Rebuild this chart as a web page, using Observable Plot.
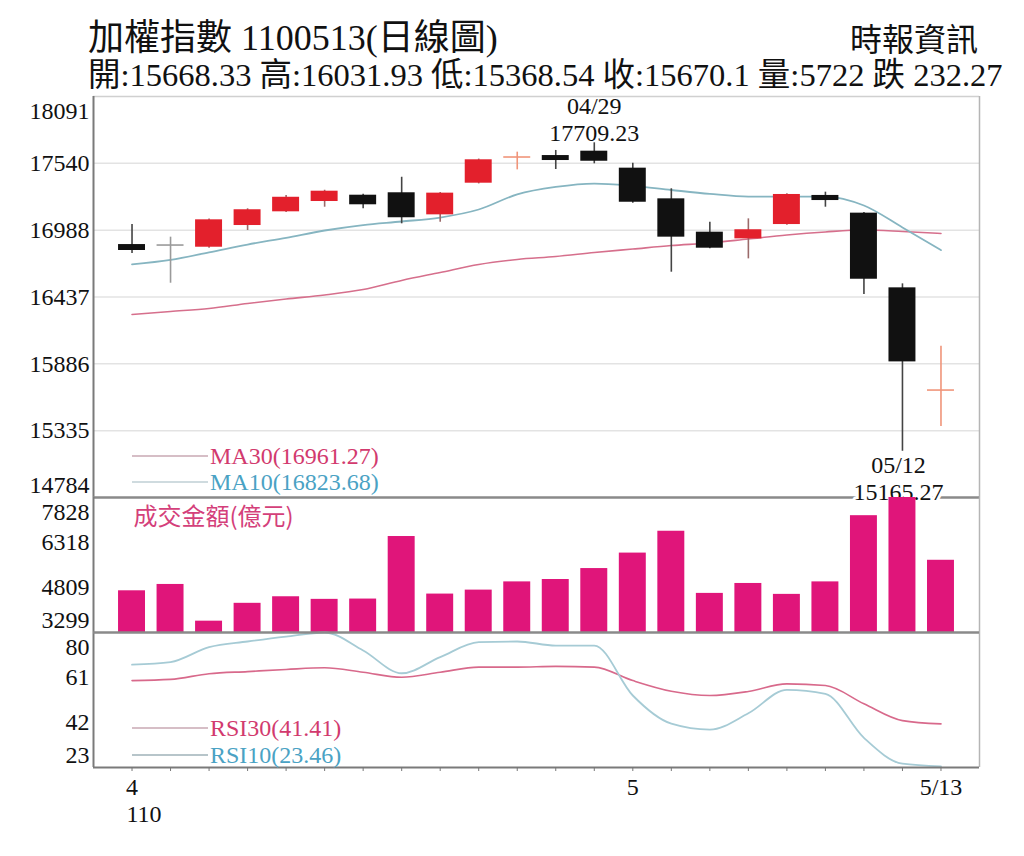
<!DOCTYPE html>
<html><head><meta charset="utf-8">
<script src="https://cdn.jsdelivr.net/npm/d3@7"></script>
<script src="https://cdn.jsdelivr.net/npm/@observablehq/plot@0.6"></script>
<style>
body{margin:0;background:#fff;}
#wrap{position:relative;width:1024px;height:856px;overflow:hidden;font-family:"Liberation Serif","Noto Sans CJK TC",serif;color:#111;}
.h{position:absolute;white-space:nowrap;line-height:1;}
.p{position:absolute;left:0;}
</style></head><body>
<div id="wrap">
  <div class="h" id="t1" style="left:88px;top:20px;font-size:36px"></div>
  <div class="h" id="t2" style="right:46px;top:24px;font-size:32px">時報資訊</div>
  <div class="h" id="t3" style="left:88px;top:59px;font-size:32.5px"></div>
  <div class="p" id="p1" style="top:95px;z-index:1"></div>
  <div class="p" id="p2" style="top:497px;z-index:2"></div>
  <div class="p" id="p3" style="top:632px;z-index:3"></div>
</div>
<script>
// ---- data ----
const title = "加權指數 1100513(日線圖)";
const dates = ["04/13","04/14","04/15","04/16","04/19","04/20","04/21","04/22","04/23","04/26","04/27","04/28","04/29",
               "05/03","05/04","05/05","05/06","05/07","05/10","05/11","05/12","05/13"];
const open  = [16870,16866,16848,17027,17140,17225,17277,17297,17115,17376,17588,17604,17640,17500,17247,16972,16917,17035,17275,17129,16513,15668.33];
const high  = [17035,16931,17080,17165,17274,17318,17285,17425,17300,17575,17632,17646,17709.23,17541,17330,17054,17082,17290,17302,17135,16546,16031.93];
const low   = [16796,16551,16840,16986,17135,17178,17165,17041,17054,17370,17486,17489,17536,17210,16642,16835,16752,17030,17178,16458,15165.27,15368.54];
const close = [16821,16866,17074,17157,17260,17310,17198,17091,17294,17569,17592,17563,17557,17219,16931,16840,16992,17283,17233,16584,15902.37,15670.1];
const volume = [4698,4911,3679,4278,4498,4411,4421,6519,4588,4721,4997,5077,5444,5963,6696,4611,4944,4578,4997,7218,7828,5722];
const ma10 = [16706,16743,16805,16870,16926,16986,17031,17060,17093,17159,17284,17345,17373,17354,17320,17288,17266,17266,17266,17192,17011,16823.68];
const ma30 = [16293,16318,16343,16384,16421,16454,16499,16574,16640,16706,16747,16771,16804,16833,16862,16883,16916,16949,16974,16990,16978,16961.27];
const rsi10 = [66.4,67.5,73.8,76.2,78.3,80.0,72.4,62.8,69.6,75.9,76.2,74.5,74.5,53.4,41.5,39.0,45.9,55.8,54.1,35.5,24.6,23.46];
const rsi30 = [59.7,60.2,62.6,63.5,64.4,65.1,63.2,61.1,63.2,65.4,65.4,65.7,65.4,59.7,55.2,53.4,55.1,58.3,57.6,49.9,42.8,41.41];
const priceTicks = [14784,15335,15886,16437,16988,17540,18091];
const volTicks = [3299,4809,6318,7828];
const rsiTicks = [23,42,61,80];
const rocYear = "110";
const volLabel = "成交金額(億元)";
const source = "時報資訊";

// ---- derived ----
const n = dates.length;
const idx = d3.range(n);
const rows = idx.map(i => ({i, date: dates[i], open: open[i], high: high[i], low: low[i], close: close[i],
  vol: volume[i], ma10: ma10[i], ma30: ma30[i], rsi10: rsi10[i], rsi30: rsi30[i]}));
const last = rows[n - 1], prev = rows[n - 2];
const chg = prev.close - last.close;
document.getElementById("t1").textContent = title;
document.getElementById("t2").textContent = source;
document.getElementById("t3").textContent =
  `開:${last.open} 高:${last.high} 低:${last.low} 收:${last.close} 量:${last.vol} ${chg >= 0 ? "跌" : "漲"} ${Math.abs(chg).toFixed(2)}`;

const W = 1024, ML = 93, MR = 45;
const FONT = "Liberation Serif, Noto Sans CJK TC, serif";
const xScale = {type: "linear", domain: [-1, n], axis: null, label: null};
const style = {fontFamily: FONT, fontSize: "24px", overflow: "visible", background: "transparent"};
const UP = "#e3202c", DOWN = "#111111";
const isDoji = d => Math.abs(d.close - d.open) < 5;
const body = rows.filter(d => !isDoji(d));
const doji = rows.filter(isDoji);
const maxRow = rows.reduce((a, b) => b.high > a.high ? b : a);
const minRow = rows.reduce((a, b) => b.low < a.low ? b : a);
const HW = 0.35;

function yLabels(ticks) {
  const lo = ticks[0], hi = ticks[ticks.length - 1];
  const common = {frameAnchor: "left", textAnchor: "end", dx: -4, fontSize: 24, fill: "#111", text: d => String(d)};
  return [
    Plot.text(ticks.filter(t => t !== lo && t !== hi), {...common, y: d => d}),
    Plot.text([hi], {...common, y: d => d, dy: 15}),
    Plot.text([lo], {...common, y: d => d, dy: -12})
  ];
}
function frame() {
  return [
    Plot.ruleX([-1], {stroke: "#7a7a7a", strokeWidth: 2}),
    Plot.ruleX([n], {stroke: "#b5b5b5", strokeWidth: 1.5})
  ];
}

// ---- price panel ----
const p1 = Plot.plot({
  width: W, height: 402, marginTop: 1, marginBottom: 0, marginLeft: ML, marginRight: MR,
  x: xScale, y: {domain: [priceTicks[0], priceTicks[priceTicks.length - 1]], axis: null},
  style,
  marks: [
    Plot.ruleY(priceTicks.slice(1, -1), {stroke: "#e3e3e3", strokeWidth: 1.5}),
    Plot.ruleY([priceTicks[priceTicks.length - 1]], {stroke: "#d0d0d0", strokeWidth: 1.5}),
    ...frame(),
    Plot.line(rows, {x: "i", y: "ma30", stroke: "#d66f8c", strokeWidth: 1.6, curve: "monotone-x"}),
    Plot.line(rows, {x: "i", y: "ma10", stroke: "#86b5c1", strokeWidth: 1.8, curve: "monotone-x"}),
    Plot.ruleX(rows, {x: "i", y1: "low", y2: "high", strokeWidth: 1.6,
      stroke: d => isDoji(d) ? (d.close > d.open ? "#f0957a" : "#9a9a9a") : (d.close > d.open ? "#9b6a6a" : "#444")}),
    Plot.rect(body, {x1: d => d.i - HW, x2: d => d.i + HW, y1: "open", y2: "close",
      fill: d => d.close > d.open ? UP : DOWN}),
    Plot.ruleY(doji, {y: "close", x1: d => d.i - HW, x2: d => d.i + HW, strokeWidth: 1.6,
      stroke: d => d.close > d.open ? "#f0957a" : "#9a9a9a"}),
    Plot.ruleY([priceTicks[0]], {stroke: "#8a8a8a", strokeWidth: 2.5}),
    Plot.text([maxRow], {x: "i", y: "high", text: d => `${d.date}\n${d.high}`, lineAnchor: "bottom",
      dy: -2, fontSize: 24, lineHeight: 1.12, fill: "#111"}),
    Plot.text([minRow], {x: "i", y: "low", text: d => `${d.date}\n${d.low}`, lineAnchor: "top",
      dy: 2, dx: -4, fontSize: 24, lineHeight: 1.15, fill: "#111", stroke: "white", strokeWidth: 6, paintOrder: "stroke"}),
    ...yLabels(priceTicks)
  ]
});
document.getElementById("p1").append(p1);

// ---- volume panel ----
const p2 = Plot.plot({
  width: W, height: 135, marginTop: 0, marginBottom: 0, marginLeft: ML, marginRight: MR,
  x: xScale, y: {domain: [volTicks[0], volTicks[volTicks.length - 1]], axis: null},
  style,
  marks: [
    ...frame(),
    Plot.rect(rows, {x1: d => d.i - HW, x2: d => d.i + HW, y1: volTicks[0], y2: "vol", fill: "#e0157a"}),
    Plot.text([volLabel], {frameAnchor: "top-left", textAnchor: "start", lineAnchor: "top", dx: 40, dy: 10,
      fontSize: 24, fill: "#d4407a", fontFamily: "Noto Sans CJK TC, sans-serif"}),
    ...yLabels(volTicks)
  ]
});
document.getElementById("p2").append(p2);

// ---- RSI panel ----
function xLabel(i) {
  if (i === n - 1) return `${+dates[i].slice(0, 2)}/${+dates[i].slice(3)}`;
  if (i === 0 || dates[i].slice(0, 2) !== dates[i - 1].slice(0, 2)) return String(+dates[i].slice(0, 2));
  return "";
}
const p3 = Plot.plot({
  width: W, height: 224, marginTop: 0, marginBottom: 89, marginLeft: ML, marginRight: MR,
  x: xScale, y: {domain: [rsiTicks[0], rsiTicks[rsiTicks.length - 1]], axis: null},
  style,
  marks: [
    ...frame(),
    Plot.line(rows, {x: "i", y: "rsi30", stroke: "#d8698b", strokeWidth: 1.6, curve: "monotone-x"}),
    Plot.line(rows, {x: "i", y: "rsi10", stroke: "#a6cbd5", strokeWidth: 1.8, curve: "monotone-x"}),
    Plot.ruleY([rsiTicks[rsiTicks.length - 1]], {stroke: "#8a8a8a", strokeWidth: 2.5}),
    Plot.ruleY([rsiTicks[0]], {stroke: "#7a7a7a", strokeWidth: 2}),
    Plot.axisX(idx, {tickSize: 4, tickPadding: 6, tickFormat: xLabel, fontSize: 24, stroke: "#777", fill: "#111", label: null}),
    Plot.text([rocYear], {frameAnchor: "bottom-left", textAnchor: "start", dx: 33, dy: 54, fontSize: 24, fill: "#111"}),
    ...yLabels(rsiTicks)
  ]
});
document.getElementById("p3").append(p3);

// ---- legends (pixel placement inside the frames) ----
function addLegend(svg, items) {
  const g = d3.select(svg).append("g").attr("text-anchor", "start");
  for (const it of items) {
    g.append("line").attr("x1", ML + 39).attr("x2", ML + 115).attr("y1", it.y).attr("y2", it.y)
      .attr("stroke", it.line).attr("stroke-width", 1.5);
    g.append("text").attr("x", ML + 117).attr("y", it.y).attr("dy", "0.35em").attr("text-anchor", "start")
      .attr("fill", it.color).attr("font-size", 24).attr("font-family", FONT).text(it.text);
  }
}
addLegend(p1, [
  {y: 361, text: `MA30(${last.ma30})`, color: "#d23a6e", line: "#c9a9b3"},
  {y: 387, text: `MA10(${last.ma10})`, color: "#4aa2c4", line: "#bfcfd4"}
]);
addLegend(p3, [
  {y: 96, text: `RSI30(${last.rsi30})`, color: "#d23a6e", line: "#c9a9b3"},
  {y: 123, text: `RSI10(${last.rsi10})`, color: "#4aa2c4", line: "#9fb2b8"}
]);
</script>
</body></html>
